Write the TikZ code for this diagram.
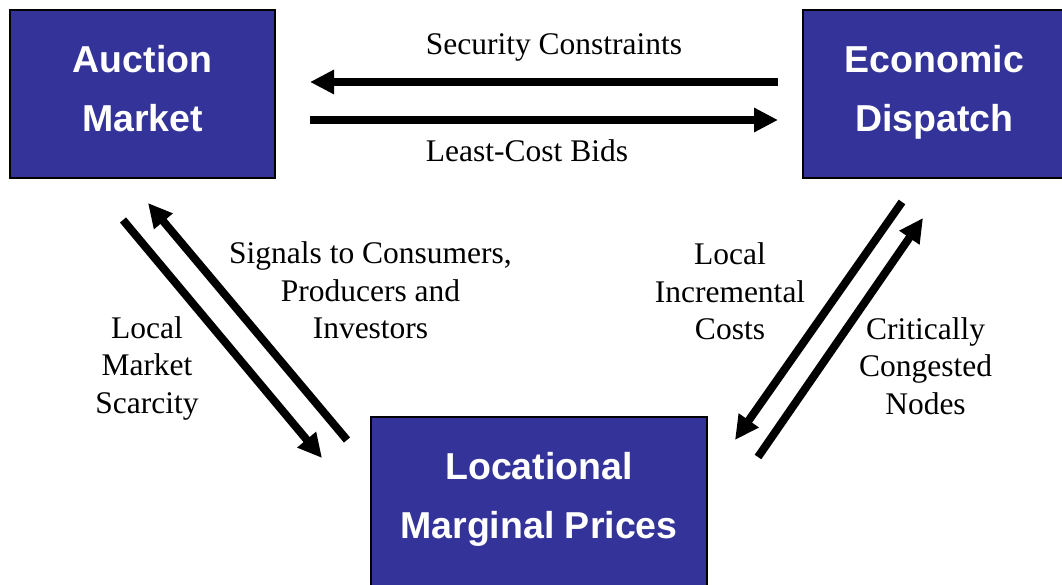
\documentclass[tikz,border=0pt]{standalone}
\usepackage{fontspec}
\setmainfont{Liberation Serif}
\newfontfamily\boxfont{Liberation Sans}
\usepackage{tikz}
\usetikzlibrary{arrows.meta, positioning}
\definecolor{lmpblue}{RGB}{51,51,153}

\begin{document}
\begin{tikzpicture}[%
        x=1pt, y=-1pt,                              % work in pixels, top-down
        >={Triangle[length=24pt, width=23pt]},
        font=\fontsize{31.5}{37.5}\selectfont,      % labels
    ]
    \tikzset{
        base/.style={draw=black, line width=2pt, fill=lmpblue, text=white,
            align=center, inner sep=0pt,
            font=\boxfont\bfseries\fontsize{37.5}{59.5}\selectfont},
        block/.style={base, minimum width=265pt, minimum height=168pt, text depth=11pt},
        % lbl node style is used for the texts beside the arrows
        lbl/.style={align=center, inner sep=0pt},
        % -------------------------------------------------
        % Connector line style
        flow/.style={->, draw, line width=8pt},
    }
    \useasboundingbox (0,0) rectangle (1062,585);
    %%% Blocks
    \node [block] (auction) at (142.5,94) {
        Auction\\Market
    };
    \node [block, minimum width=263pt] (dispatch) at (934.5,94) {
        Economic\\Dispatch
    };
    \node [base, minimum width=336pt, minimum height=175pt, text depth=18pt] (lmp) at (539,504.5) {
        Locational\\Marginal Prices
    };
    %%% Nodes
    \coordinate (scarcity_a) at (123,220);
    \coordinate (scarcity_b) at (322,458);
    \coordinate (signals_a) at (347,440);
    \coordinate (signals_b) at (148,203);
    \coordinate (costs_a) at (902,202);
    \coordinate (costs_b) at (735,440);
    \coordinate (nodes_a) at (758,457);
    \coordinate (nodes_b) at (923,218);
    %%% Labels
    \node [lbl, anchor=base] (security) at (554,55) {Security Constraints};
    \node [lbl, anchor=base] (bids) at (527,162) {Least-Cost Bids};
    \node [lbl] (signals) at (370.5,290.5) {Signals to Consumers,\\Producers and\\Investors};
    \node [lbl] (scarcity) at (147,368) {Local\\Market\\Scarcity};
    \node [lbl] (costs) at (730,291.5) {Local\\Incremental\\Costs};
    \node [lbl] (nodes) at (925.5,366) {Critically\\Congested\\Nodes};
    %%% Connectors
    % -- auction <-> dispatch
    \draw [flow, shorten <=24pt, shorten >=34pt] ([yshift=12pt]dispatch.west) -- ([yshift=12pt]auction.east);
    \draw [flow, shorten <=34pt, shorten >=24pt] ([yshift=-26pt]auction.east) -- ([yshift=-26pt]dispatch.west);
    % -- auction <-> lmp
    \draw [flow] (scarcity_a) -- (scarcity_b);
    \draw [flow] (signals_a) -- (signals_b);
    % -- dispatch <-> lmp
    \draw [flow] (costs_a) -- (costs_b);
    \draw [flow] (nodes_a) -- (nodes_b);
\end{tikzpicture}
\end{document}
